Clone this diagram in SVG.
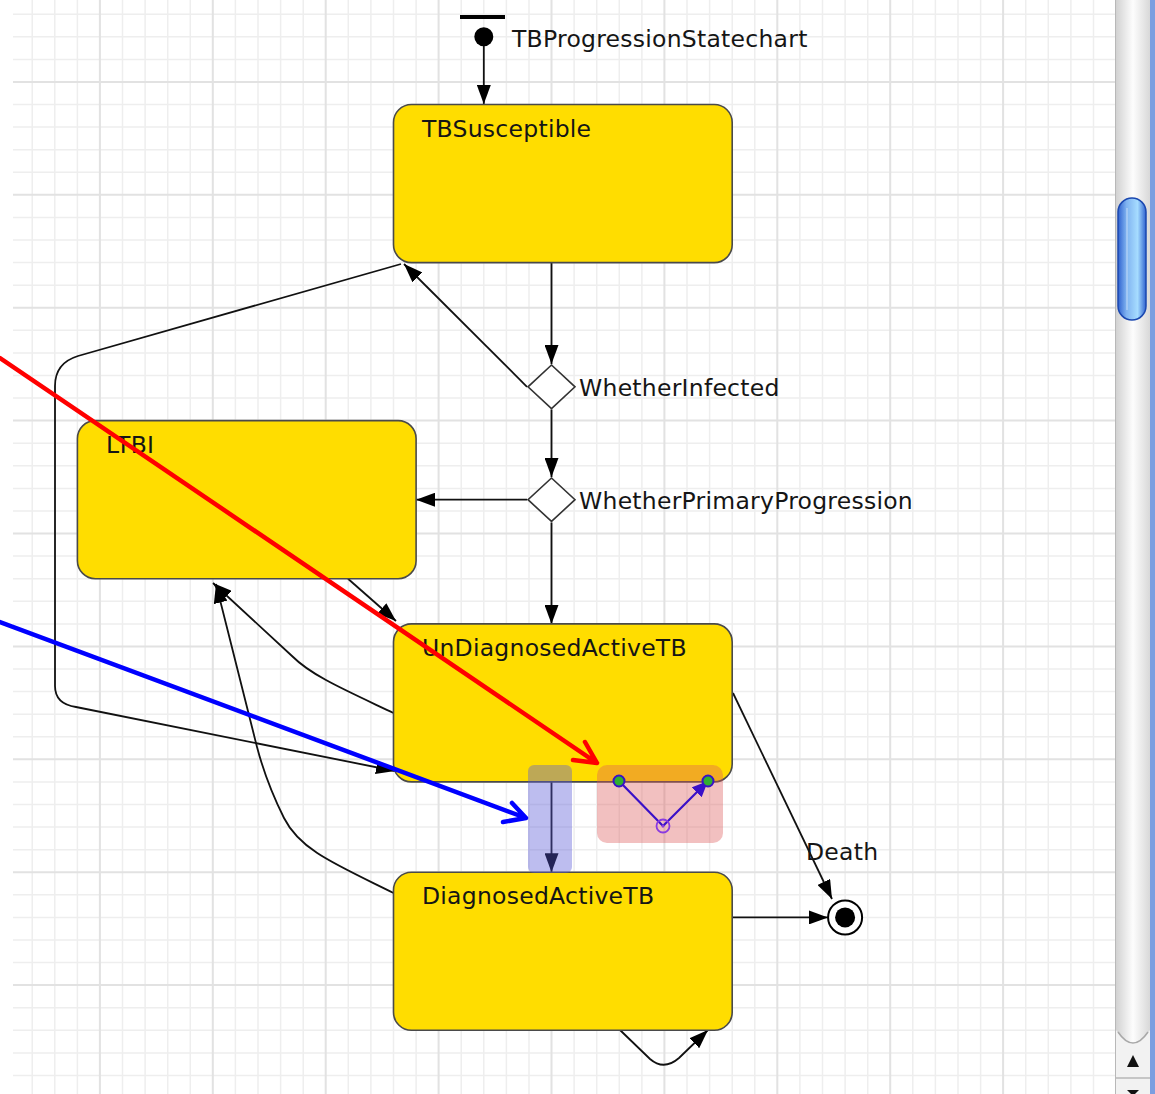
<svg xmlns="http://www.w3.org/2000/svg" width="1155" height="1094" viewBox="0 0 1155 1094">
<style>
.node{fill:#FFDD00;stroke:#4a4a4a;stroke-width:1.6}
.lbl{font-family:"DejaVu Sans","Liberation Sans",sans-serif;font-size:23.5px;letter-spacing:0.25px;fill:#151515}
.con{fill:none;stroke:#111;stroke-width:1.8}
.dia{fill:#fff;stroke:#333;stroke-width:1.6}
.minor{stroke:#eeeeee;stroke-width:1.5;fill:none}
.major{stroke:#e2e2e2;stroke-width:2;fill:none}
</style>
<defs>
<marker id="ah" markerUnits="userSpaceOnUse" markerWidth="20" markerHeight="14" refX="19" refY="7" orient="auto">
<path d="M0,0 L19,7 L0,14 z" fill="#000"/>
</marker>
<marker id="ahp" markerUnits="userSpaceOnUse" markerWidth="18" markerHeight="14" refX="16" refY="7" orient="auto">
<path d="M0,0 L16,7 L0,14 z" fill="#3a10c8"/>
</marker>
<linearGradient id="track" x1="0" y1="0" x2="1" y2="0">
<stop offset="0" stop-color="#cfcfcf"/><stop offset="0.5" stop-color="#fdfdfd"/><stop offset="1" stop-color="#d6d6d6"/>
</linearGradient>
<linearGradient id="thumb" x1="0" y1="0" x2="1" y2="0">
<stop offset="0" stop-color="#2f62d0"/><stop offset="0.3" stop-color="#7fb2f0"/><stop offset="0.7" stop-color="#a6dcff"/><stop offset="1" stop-color="#2f62d0"/>
</linearGradient>
</defs>
<rect width="1155" height="1094" fill="#fff"/>
<g id="grid">
<path class="minor" d="M32.2,0V1094M54.8,0V1094M77.4,0V1094M122.5,0V1094M145.1,0V1094M167.7,0V1094M190.3,0V1094M235.4,0V1094M258,0V1094M280.6,0V1094M303.2,0V1094M348.3,0V1094M370.9,0V1094M393.5,0V1094M416.1,0V1094M461.2,0V1094M483.8,0V1094M506.4,0V1094M529,0V1094M574.1,0V1094M596.7,0V1094M619.3,0V1094M641.9,0V1094M687,0V1094M709.6,0V1094M732.2,0V1094M754.8,0V1094M799.9,0V1094M822.5,0V1094M845.1,0V1094M867.7,0V1094M912.8,0V1094M935.4,0V1094M958,0V1094M980.6,0V1094M1025.7,0V1094M1048.3,0V1094M1070.9,0V1094M1093.5,0V1094"/>
<path class="minor" d="M13,14.2H1115M13,36.8H1115M13,59.4H1115M13,104.5H1115M13,127.1H1115M13,149.7H1115M13,172.3H1115M13,217.4H1115M13,240H1115M13,262.6H1115M13,285.2H1115M13,330.3H1115M13,352.9H1115M13,375.5H1115M13,398.1H1115M13,443.2H1115M13,465.8H1115M13,488.4H1115M13,511H1115M13,556.1H1115M13,578.7H1115M13,601.3H1115M13,623.9H1115M13,669H1115M13,691.6H1115M13,714.2H1115M13,736.8H1115M13,781.9H1115M13,804.5H1115M13,827.1H1115M13,849.7H1115M13,894.8H1115M13,917.4H1115M13,940H1115M13,962.6H1115M13,1007.7H1115M13,1030.3H1115M13,1052.9H1115M13,1075.5H1115"/>
<path class="major" d="M99.9,0V1094M212.8,0V1094M325.7,0V1094M438.6,0V1094M551.5,0V1094M664.4,0V1094M777.3,0V1094M890.2,0V1094M1003.1,0V1094M13,81.9H1115M13,194.8H1115M13,307.7H1115M13,420.6H1115M13,533.5H1115M13,646.4H1115M13,759.3H1115M13,872.2H1115M13,985.1H1115"/>
</g>
<g id="connectors">
<path class="con" marker-end="url(#ah)" d="M483.8,46 L483.8,104"/>
<path class="con" marker-end="url(#ah)" d="M551.5,262.6 L551.5,364"/>
<path class="con" marker-end="url(#ah)" d="M527,386.8 L404,264"/>
<path class="con" marker-end="url(#ah)" d="M551.5,409.5 L551.5,477"/>
<path class="con" marker-end="url(#ah)" d="M527,499.7 L416.1,499.7"/>
<path class="con" marker-end="url(#ah)" d="M551.5,522.5 L551.5,623.9"/>
<path class="con" marker-end="url(#ah)" d="M401,264 L78,356 Q55,363 55,386 L55,686 Q55,704 76,707 L395,771"/>
<path class="con" marker-end="url(#ah)" d="M348,578.7 L396,621"/>
<path class="con" marker-end="url(#ah)" d="M393.5,713 C345,690 312,676 292,656 L213,583"/>
<path class="con" marker-end="url(#ah)" d="M393.5,893 C335,864 300,850 284,818 C272,794 262,766 257,747 L216,584"/>
<path class="con" marker-end="url(#ah)" d="M551.5,781.9 L551.5,872.2"/>
<path class="con" marker-end="url(#ah)" d="M733,693 L832,899"/>
<path class="con" marker-end="url(#ah)" d="M732.2,917.4 L828,917.4"/>
<path class="con" marker-end="url(#ah)" d="M620,1030 L650,1059 Q664,1071 679,1058 L708,1030"/>
</g>
<g id="init">
<rect x="460" y="15" width="45" height="4" fill="#000"/>
<circle cx="483.8" cy="36.8" r="9.5" fill="#000"/>
<text class="lbl" x="512" y="47">TBProgressionStatechart</text>
</g>
<g id="TBSusceptible">
<rect class="node" x="393.5" y="104.5" width="338.7" height="158.1" rx="18"/>
<text class="lbl" x="422" y="137">TBSusceptible</text>
</g>
<g id="WhetherInfected">
<polygon class="dia" points="551.5,365 575,386.8 551.5,408.6 528,386.8"/>
<text class="lbl" x="579" y="396">WhetherInfected</text>
</g>
<g id="WhetherPrimaryProgression">
<polygon class="dia" points="551.5,478 575,499.7 551.5,521.4 528,499.7"/>
<text class="lbl" x="579" y="509">WhetherPrimaryProgression</text>
</g>
<g id="LTBI">
<rect class="node" x="77.4" y="420.6" width="338.7" height="158.1" rx="18"/>
<text class="lbl" x="106" y="453">LTBI</text>
</g>
<g id="UnDiagnosedActiveTB">
<rect class="node" x="393.5" y="623.9" width="338.7" height="158" rx="18"/>
<text class="lbl" x="422" y="656">UnDiagnosedActiveTB</text>
</g>
<g id="DiagnosedActiveTB">
<rect class="node" x="393.5" y="872.2" width="338.7" height="158.1" rx="18"/>
<text class="lbl" x="422" y="904">DiagnosedActiveTB</text>
</g>
<g id="final">
<circle cx="845.1" cy="917.4" r="17" fill="#fff" stroke="#000" stroke-width="2"/>
<circle cx="845.1" cy="917.4" r="10" fill="#000"/>
<text class="lbl" x="806" y="860">Death</text>
</g>
<g id="highlights">
<rect x="528" y="765" width="44" height="108" rx="6" fill="#5a5ad8" fill-opacity="0.4"/>
<rect x="597" y="765" width="126" height="78" rx="10" fill="#dc5a5a" fill-opacity="0.38"/>
<path d="M619,781 L663,826 L708,781" fill="none" stroke="#3a10c8" stroke-width="2.2" marker-end="url(#ahp)"/>
<circle cx="619" cy="781" r="5.5" fill="#30b030" stroke="#3a10c8" stroke-width="2"/>
<circle cx="708" cy="781" r="5.5" fill="#30b030" stroke="#3a10c8" stroke-width="2"/>
<circle cx="663" cy="826" r="6.5" fill="none" stroke="#8a3ae0" stroke-width="1.8"/>
<circle cx="663" cy="826" r="1.5" fill="#8a3ae0"/>
</g>
<g id="pointers" fill="none" stroke-linecap="round" stroke-linejoin="round">
<path d="M0,358 L597,763 M573,760 L597,763 L585,742" stroke="#ff0000" stroke-width="4.5"/>
<path d="M0,622 L526,818 M503,822 L526,818 L512,803" stroke="#0000ff" stroke-width="4.5"/>
</g>
<g id="scrollbar">
<rect x="1115" y="0" width="36" height="1094" fill="url(#track)"/>
<line x1="1115.5" y1="0" x2="1115.5" y2="1094" stroke="#b8b8b8" stroke-width="1"/>
<rect x="1150" y="0" width="5" height="1094" fill="#7c9ee0"/>
<path d="M1116,1030 Q1133,1058 1150,1030 L1150,1094 L1116,1094 z" fill="#f2f2f2"/>
<path d="M1118,1032 Q1133,1054 1148,1032" fill="none" stroke="#a8a8a8" stroke-width="1.5"/>
<polygon points="1127,1067 1139,1067 1133,1055" fill="#111"/>
<line x1="1116" y1="1078" x2="1150" y2="1078" stroke="#9a9a9a" stroke-width="1"/>
<polygon points="1127,1090 1139,1090 1133,1096" fill="#111"/>
<rect x="1118" y="198" width="28" height="122" rx="14" fill="url(#thumb)" stroke="#1b48b0" stroke-width="1.5"/>
<line x1="1127" y1="208" x2="1127" y2="310" stroke="#ffffff" stroke-opacity="0.35" stroke-width="1.5"/>
</g>
</svg>
